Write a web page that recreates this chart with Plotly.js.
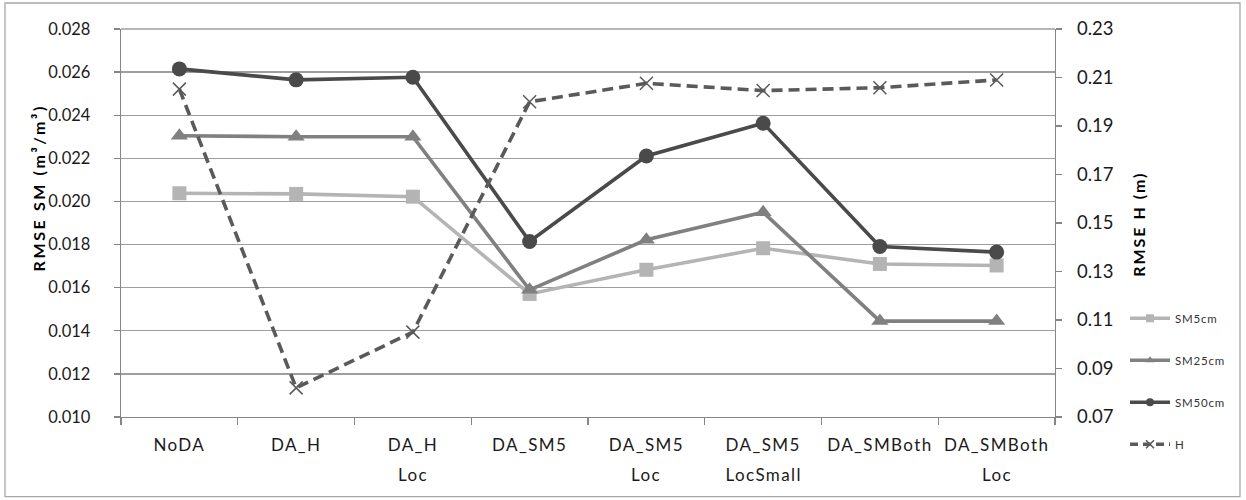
<!DOCTYPE html>
<html>
<head>
<meta charset="utf-8">
<script src="https://cdn.plot.ly/plotly-3.0.1.min.js"></script>
<style>
  html, body { margin: 0; padding: 0; background: #fff; }
  #chart { width: 1246px; height: 500px; }
  .xtick text { letter-spacing: 1.4px; }
  .legendtext { letter-spacing: 0.8px; }
</style>
</head>
<body>
<div id="chart"></div>
<script>
// ---- data ----
const categories = ["NoDA", "DA_H", "DA_H Loc", "DA_SM5", "DA_SM5 Loc", "DA_SM5 LocSmall", "DA_SMBoth", "DA_SMBoth Loc"];
const tickLine1 = ["NoDA", "DA_H", "DA_H", "DA_SM5", "DA_SM5", "DA_SM5", "DA_SMBoth", "DA_SMBoth"];
const tickLine2 = ["", "", "Loc", "", "Loc", "LocSmall", "", "Loc"];
const sm5cm  = [0.02038, 0.02035, 0.02022, 0.01571, 0.01683, 0.01783, 0.01710, 0.01703];
const sm25cm = [0.02305, 0.02300, 0.02300, 0.01590, 0.01822, 0.01950, 0.01445, 0.01445];
const sm50cm = [0.02615, 0.02564, 0.02576, 0.01814, 0.02211, 0.02363, 0.01791, 0.01765];
const hRmse  = [0.2052, 0.0820, 0.1050, 0.2000, 0.2076, 0.2046, 0.2058, 0.2090];
const seriesNames = ["SM5cm", "SM25cm", "SM50cm", "H"];
const leftTitle = "RMSE SM (m³/m³)";
const rightTitle = "RMSE H (m)";

const FONT = "Lato, 'Noto Sans', sans-serif";
const c5 = "#b4b4b4", c25 = "#808080", c50 = "#4a4a4a", cH = "#5a5a5a";
const DASH = "11px,6px";

const styles = [
  {color: c5, symbol: "square", size: 14, lsize: 8, axis: "y"},
  {color: c25, symbol: "triangle-up", size: 15, lsize: 8, axis: "y"},
  {color: c50, symbol: "circle", size: 15, lsize: 8, axis: "y"},
  {color: cH, symbol: "x-thin", size: 13, lsize: 8, axis: "y2", dash: DASH}
];
const seriesValues = [sm5cm, sm25cm, sm50cm, hRmse];

const traces = [];
// plotted series (legend uses the small-marker entries below)
seriesValues.forEach((vals, i) => {
  const s = styles[i];
  traces.push({x: categories, y: vals, name: seriesNames[i], yaxis: s.axis, type: "scatter", mode: "lines+markers",
    showlegend: false,
    line: {color: s.color, width: 3.6, dash: s.dash || "solid"},
    marker: {symbol: s.symbol, size: s.size, color: s.color, line: {color: s.color, width: s.symbol === "x-thin" ? 1.5 : 0}}});
});
// legend entries (small markers as in the reference legend)
seriesValues.forEach((vals, i) => {
  const s = styles[i];
  traces.push({x: [null], y: [null], name: seriesNames[i], legendgroup: "g" + i, yaxis: s.axis, type: "scatter",
    mode: "lines+markers", showlegend: true, hoverinfo: "skip",
    line: {color: s.color, width: 3.6, dash: s.dash ? "8px,5px" : "solid"},
    marker: {symbol: s.symbol, size: s.lsize, color: s.color, line: {color: s.color, width: s.symbol === "x-thin" ? 1.5 : 0}}});
});

const L = 121, R = 1055, T = 29, B = 417.3;
const W = R - L, H = B - T;
const px = v => (v - L) / W;
const py = v => (B - v) / H;

const annotations = [
  {text: "<b>" + leftTitle + "</b>", xref: "paper", yref: "paper", x: px(39), y: py(188), textangle: -90,
   showarrow: false, font: {family: FONT, size: 16, color: "#000"}, xanchor: "center", yanchor: "middle"},
  {text: "<b>" + rightTitle + "</b>", xref: "paper", yref: "paper", x: px(1139), y: py(225), textangle: -90,
   showarrow: false, font: {family: FONT, size: 16, color: "#000"}, xanchor: "center", yanchor: "middle"}
];
categories.forEach((c, i) => {
  if (tickLine2[i]) {
    annotations.push({text: tickLine2[i], xref: "x", yref: "paper", x: c, y: 0, yshift: -45,
      showarrow: false, xanchor: "center", yanchor: "top", font: {family: FONT, size: 17, color: "#1a1a1a"}});
  }
});

const layout = {
  width: 1246, height: 500,
  margin: {l: L, r: 1246 - R, t: T, b: 500 - B, pad: 0},
  paper_bgcolor: "#fff", plot_bgcolor: "#fff",
  font: {family: FONT, color: "#1a1a1a"},
  showlegend: true,
  legend: {x: px(1125), y: py(304), xanchor: "left", yanchor: "top", tracegroupgap: 23, traceorder: "grouped",
           font: {family: FONT, size: 11.5, color: "#333"}, bgcolor: "rgba(0,0,0,0)", itemwidth: 40},
  xaxis: {type: "category", tickmode: "array", tickvals: categories, ticktext: tickLine1,
          range: [-0.5, 7.5], tickson: "boundaries", ticks: "outside", ticklen: 7, tickcolor: "#868686", tickwidth: 1.3,
          showline: true, linecolor: "#868686", linewidth: 1.3, showgrid: false, zeroline: false,
          tickfont: {family: FONT, size: 17, color: "#1a1a1a"}, ticklabelstandoff: 12, automargin: false},
  yaxis: {range: [0.010, 0.028], tick0: 0.010, dtick: 0.002, tickformat: ".3f",
          ticks: "outside", ticklen: 6, tickcolor: "#868686", tickwidth: 1.3,
          showline: true, linecolor: "#868686", linewidth: 1.3,
          showgrid: true, gridcolor: "#9e9e9e", gridwidth: 1.4, zeroline: false,
          tickfont: {family: FONT, size: 16.5, color: "#1a1a1a"}, ticklabelstandoff: 20, automargin: false},
  yaxis2: {range: [0.07, 0.23], tick0: 0.07, dtick: 0.02, tickformat: ".2f", overlaying: "y", side: "right",
           ticks: "outside", ticklen: 6, tickcolor: "#868686", tickwidth: 1.3,
           showline: true, linecolor: "#868686", linewidth: 1.3, showgrid: false, zeroline: false,
           tickfont: {family: FONT, size: 18.5, color: "#1a1a1a"}, ticklabelstandoff: 11, automargin: false},
  annotations: annotations,
  shapes: [
    {type: "line", xref: "paper", yref: "paper", x0: 0, x1: 1, y0: 1, y1: 1, line: {color: "#9e9e9e", width: 1.4}, layer: "below"},
    {type: "rect", xref: "paper", yref: "paper", x0: px(5), x1: px(1240), y0: py(497), y1: py(3),
     line: {color: "#a6a6a6", width: 1.3}, fillcolor: "rgba(0,0,0,0)"}
  ]
};

Plotly.newPlot("chart", traces, layout, {displayModeBar: false, staticPlot: true}).then(() => {
  // letter spacing for axis titles and second-line category labels
  const anns = document.querySelectorAll(".annotation");
  anns.forEach((g, i) => {
    const t = g.querySelector("text");
    if (!t) return;
    if (i === 0) t.style.letterSpacing = "2.6px";
    else if (i === 1) t.style.letterSpacing = "2px";
    else t.style.letterSpacing = "1.4px";
  });
});
</script>
</body>
</html>
